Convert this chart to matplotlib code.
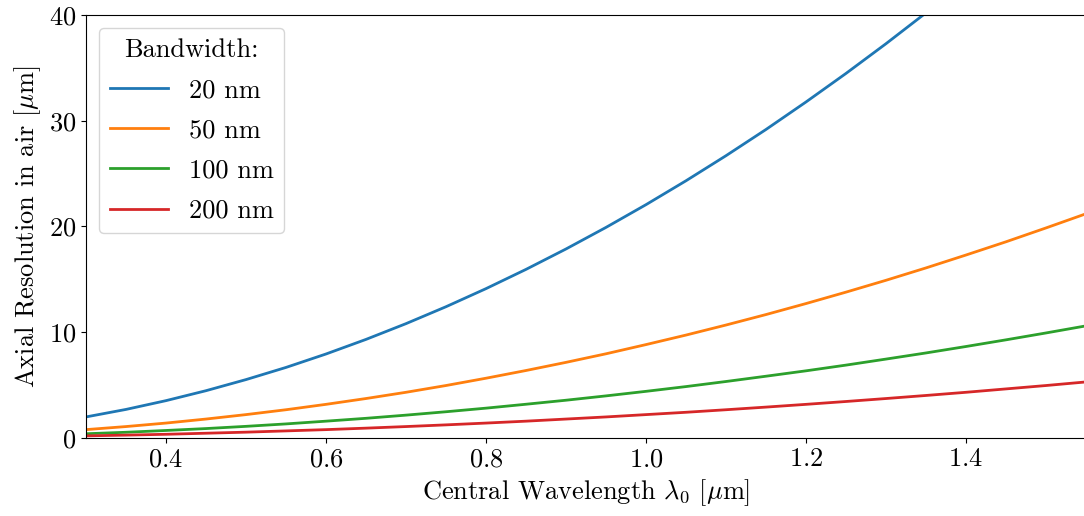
import numpy as np
import matplotlib
matplotlib.use("Agg")
import matplotlib.pyplot as plt

plt.rcParams['font.family'] = 'serif'
plt.rcParams['font.serif'] = ['cmr10']
plt.rcParams['mathtext.fontset'] = 'cm'
plt.rcParams['axes.formatter.use_mathtext'] = True
plt.rcParams['font.size'] = 19

# central wavelength in um
wavelength = [0.30, 0.35, 0.40, 0.45, 0.50, 0.55, 0.60, 0.65, 0.70, 0.75,
              0.80, 0.85, 0.90, 0.95, 1.00, 1.05, 1.10, 1.15, 1.20, 1.25,
              1.30, 1.35, 1.40, 1.45, 1.50, 1.55]

# axial resolution in um for each bandwidth
res_20nm = [1.99, 2.70, 3.53, 4.47, 5.52, 6.67, 7.94, 9.32, 10.81, 12.41,
            14.12, 15.94, 17.87, 19.91, 22.06, 24.32, 26.69, 29.17, 31.77, 34.47,
            37.28, 40.20, 43.24]
res_50nm = [0.79, 1.08, 1.41, 1.79, 2.21, 2.67, 3.18, 3.73, 4.32, 4.96,
            5.65, 6.38, 7.15, 7.96, 8.83, 9.73, 10.68, 11.67, 12.71, 13.79,
            14.91, 16.08, 17.30, 18.55, 19.86, 21.20]
res_100nm = [0.40, 0.54, 0.71, 0.89, 1.10, 1.33, 1.59, 1.86, 2.16, 2.48,
             2.82, 3.19, 3.57, 3.98, 4.41, 4.86, 5.34, 5.84, 6.35, 6.89,
             7.46, 8.04, 8.65, 9.28, 9.93, 10.60]
res_200nm = [0.20, 0.27, 0.35, 0.45, 0.55, 0.67, 0.79, 0.93, 1.08, 1.24,
             1.41, 1.59, 1.79, 1.99, 2.21, 2.43, 2.67, 2.92, 3.18, 3.45,
             3.73, 4.02, 4.32, 4.64, 4.96, 5.30]

series = [(res_20nm, '20 nm'), (res_50nm, '50 nm'),
          (res_100nm, '100 nm'), (res_200nm, '200 nm')]

fig = plt.figure(figsize=(10.84, 5.16), dpi=100)
ax = fig.add_axes([0.0793, 0.1512, 0.9225, 0.8198])

for vals, lab in series:
    ax.plot(wavelength[:len(vals)], vals, lw=2, label=lab)

ax.set_xlim(0.3, 1.55)
ax.set_ylim(0, 40)
ax.set_xticks([0.4, 0.6, 0.8, 1.0, 1.2, 1.4])
ax.set_yticks([0, 10, 20, 30, 40])
ax.set_xlabel(r'Central Wavelength $\lambda_0$ [$\mu$m]')
ax.set_ylabel(r'Axial Resolution in air [$\mu$m]')
ax.legend(title='Bandwidth:', loc='upper left', fontsize=19, title_fontsize=19,
          handlelength=2.2, labelspacing=0.62)

fig.savefig('out.png', dpi=100)
